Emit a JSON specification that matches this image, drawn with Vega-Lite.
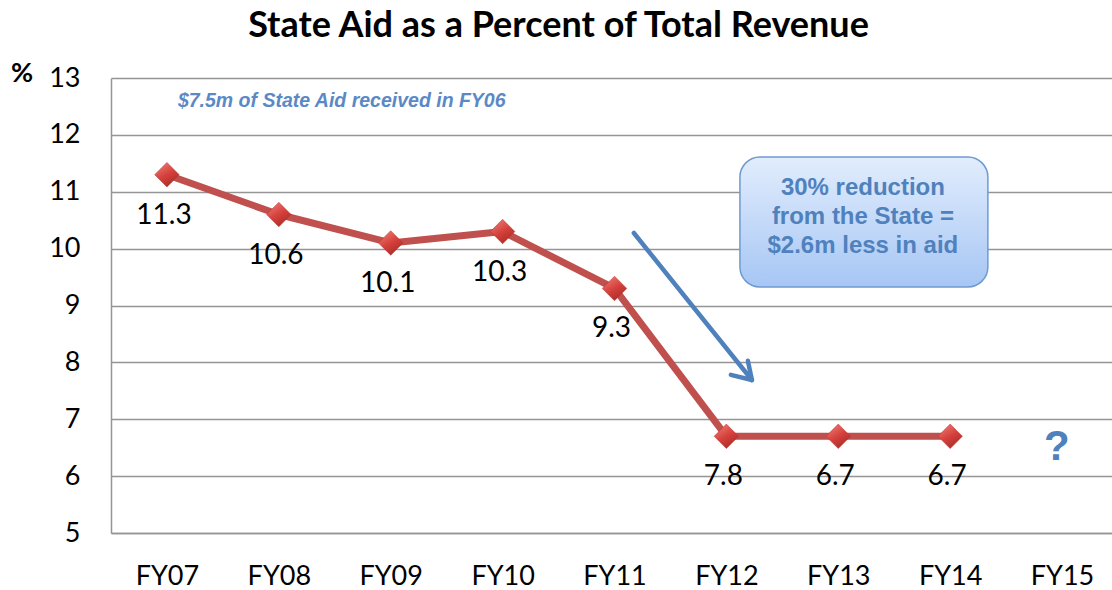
{
  "$schema": "https://vega.github.io/schema/vega-lite/v6.json",
  "width": 1007,
  "height": 455,
  "autosize": "none",
  "padding": {"left": 111, "top": 78, "right": 0, "bottom": 57},
  "background": "white",
  "title": {
    "text": "State Aid as a Percent of Total Revenue",
    "font": "Lato",
    "fontSize": 36,
    "fontWeight": "bold",
    "color": "black",
    "anchor": "middle",
    "frame": "group",
    "dx": -56,
    "offset": 14
  },
  "config": {
    "view": {"stroke": null},
    "axis": {"labelFont": "Lato", "labelFontSize": 27, "labelColor": "black", "ticks": false, "tickSize": 0}
  },
  "datasets": {
    "series": [
      {"fy": "FY07", "idx": 0, "pct": 11.3, "label": "11.3"},
      {"fy": "FY08", "idx": 1, "pct": 10.6, "label": "10.6"},
      {"fy": "FY09", "idx": 2, "pct": 10.1, "label": "10.1"},
      {"fy": "FY10", "idx": 3, "pct": 10.3, "label": "10.3"},
      {"fy": "FY11", "idx": 4, "pct": 9.3, "label": "9.3"},
      {"fy": "FY12", "idx": 5, "pct": 6.7, "label": "7.8"},
      {"fy": "FY13", "idx": 6, "pct": 6.7, "label": "6.7"},
      {"fy": "FY14", "idx": 7, "pct": 6.7, "label": "6.7"}
    ],
    "box": [{"x": 5.121, "x2": 7.337, "y": 11.611, "y2": 9.325}],
    "boxtext": [
      {"x": 6.22, "y": 10.943, "text": "30% reduction"},
      {"x": 6.22, "y": 10.433, "text": "from the State ="},
      {"x": 6.22, "y": 9.923, "text": "$2.6m less in aid"}
    ],
    "subtitle": [{"x": 0.098, "y": 12.596, "text": "$7.5m of State Aid received in FY06"}],
    "question": [{"x": 7.953, "y": 6.512, "text": "?"}],
    "arrow": [
      {"x": 4.173, "y": 10.275, "x2": 5.228, "y2": 7.69},
      {"x": 5.040, "y": 7.78, "x2": 5.228, "y2": 7.69},
      {"x": 5.192, "y": 8.03, "x2": 5.228, "y2": 7.69}
    ]
  },
  "layer": [
    {
      "data": {"name": "series"},
      "mark": {"type": "line", "color": "#C0504D", "strokeWidth": 7, "strokeJoin": "round"},
      "encoding": {
        "x": {
          "field": "idx", "type": "quantitative",
          "scale": {"domain": [-0.5, 8.5], "nice": false, "zero": false},
          "axis": {
            "title": null,
            "values": [0, 1, 2, 3, 4, 5, 6, 7, 8],
            "labelExpr": "['FY07','FY08','FY09','FY10','FY11','FY12','FY13','FY14','FY15'][datum.value]",
            "grid": false,
            "domain": true,
            "domainColor": "#959595",
            "domainWidth": 1.5,
            "labelBaseline": "alphabetic",
            "labelPadding": 51,
            "labelFontSize": 27
          }
        },
        "y": {
          "field": "pct", "type": "quantitative",
          "scale": {"domain": [5, 13], "nice": false, "zero": false},
          "axis": {
            "title": "%",
            "titleAngle": 0,
            "titleX": -89.5,
            "titleY": -5,
            "titleAlign": "center",
            "titleBaseline": "middle",
            "titleFont": "Lato",
            "titleFontSize": 27,
            "titleFontWeight": "bold",
            "titleColor": "black",
            "values": [5, 6, 7, 8, 9, 10, 11, 12, 13],
            "format": "d",
            "grid": true,
            "gridColor": "#959595",
            "gridWidth": 1.5,
            "domain": true,
            "domainColor": "#959595",
            "domainWidth": 1.5,
            "labelPadding": 31,
            "labelBaseline": "middle",
            "labelFontSize": 27
          }
        }
      }
    },
    {
      "data": {"name": "series"},
      "mark": {
        "type": "point", "shape": "diamond", "filled": true, "size": 600, "opacity": 1,
        "fill": {"gradient": "linear", "x1": 0.2, "y1": 0, "x2": 0.8, "y2": 1,
          "stops": [{"offset": 0, "color": "#F07A74"}, {"offset": 0.5, "color": "#D5403B"}, {"offset": 1, "color": "#A52A26"}]},
        "stroke": "#B3322E", "strokeWidth": 0.5
      },
      "encoding": {
        "x": {"field": "idx", "type": "quantitative"},
        "y": {"field": "pct", "type": "quantitative"}
      }
    },
    {
      "data": {"name": "series"},
      "mark": {"type": "text", "font": "Lato", "fontSize": 28, "color": "black", "baseline": "middle", "align": "center", "dy": 41, "dx": -3},
      "encoding": {
        "x": {"field": "idx", "type": "quantitative"},
        "y": {"field": "pct", "type": "quantitative"},
        "text": {"field": "label"}
      }
    },
    {
      "data": {"name": "box"},
      "mark": {
        "type": "rect", "cornerRadius": 20,
        "fill": {"gradient": "linear", "x1": 0, "y1": 0, "x2": 0, "y2": 1,
          "stops": [{"offset": 0, "color": "#E2EDFD"}, {"offset": 1, "color": "#A6C6F4"}]},
        "stroke": "#6E9AD2", "strokeWidth": 1.5
      },
      "encoding": {
        "x": {"field": "x", "type": "quantitative"},
        "x2": {"field": "x2"},
        "y": {"field": "y", "type": "quantitative"},
        "y2": {"field": "y2"}
      }
    },
    {
      "data": {"name": "boxtext"},
      "mark": {"type": "text", "font": "Liberation Sans", "fontSize": 24, "fontWeight": "bold", "color": "#4F81BD", "align": "center", "baseline": "alphabetic"},
      "encoding": {
        "x": {"field": "x", "type": "quantitative"},
        "y": {"field": "y", "type": "quantitative"},
        "text": {"field": "text"}
      }
    },
    {
      "data": {"name": "subtitle"},
      "mark": {"type": "text", "font": "Liberation Sans", "fontSize": 19.5, "fontWeight": "bold", "fontStyle": "italic", "color": "#5A89C6", "align": "left", "baseline": "middle"},
      "encoding": {
        "x": {"field": "x", "type": "quantitative"},
        "y": {"field": "y", "type": "quantitative"},
        "text": {"field": "text"}
      }
    },
    {
      "data": {"name": "question"},
      "mark": {"type": "text", "font": "Liberation Sans", "fontSize": 42, "fontWeight": "bold", "color": "#4F81BD", "align": "center", "baseline": "middle"},
      "encoding": {
        "x": {"field": "x", "type": "quantitative"},
        "y": {"field": "y", "type": "quantitative"},
        "text": {"field": "text"}
      }
    },
    {
      "data": {"name": "arrow"},
      "mark": {"type": "rule", "color": "#4F81BD", "strokeWidth": 4.5, "strokeCap": "round"},
      "encoding": {
        "x": {"field": "x", "type": "quantitative"},
        "x2": {"field": "x2"},
        "y": {"field": "y", "type": "quantitative"},
        "y2": {"field": "y2"}
      }
    }
  ]
}
